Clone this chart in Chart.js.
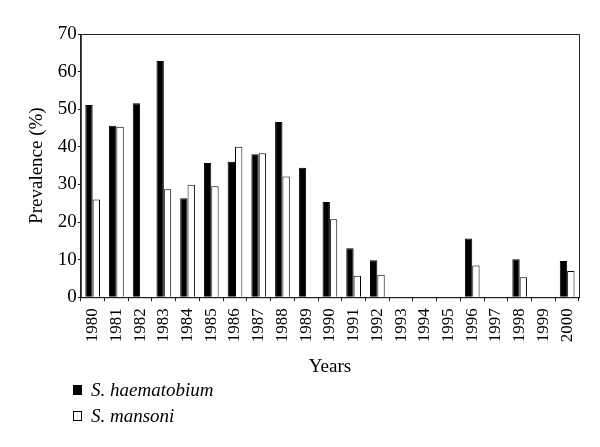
<!DOCTYPE html>
<html>
<head>
<meta charset="utf-8">
<script src="https://cdn.jsdelivr.net/npm/chart.js@4"></script>
<style>
    html, body { margin: 0; padding: 0; background: #fff; }
    #wrap { position: relative; width: 600px; height: 447px; }
    #legend {
        position: absolute; left: 73px; top: 377px;
        font-family: 'Liberation Serif', serif; font-style: italic; font-size: 19px; color: #000;
    }
    .item { display: flex; align-items: center; height: 26px; }
    .swatch { width: 7px; height: 8px; border: 1px solid #000; margin-right: 9px; }
</style>
</head>
<body>
<div id="wrap">
    <canvas id="chart" width="600" height="447"></canvas>
    <div id="legend">
        <div class="item"><span class="swatch" style="background:#000"></span><span>S. haematobium</span></div>
        <div class="item"><span class="swatch" style="background:#fff"></span><span>S. mansoni</span></div>
    </div>
</div>
<script>
const years = ['1980', '1981', '1982', '1983', '1984', '1985', '1986', '1987', '1988', '1989', '1990',
    '1991', '1992', '1993', '1994', '1995', '1996', '1997', '1998', '1999', '2000'];
const haematobium = [51.1, 45.6, 51.6, 62.8, 26.3, 35.7, 36.0, 38.0, 46.6, 34.4, 25.3,
    13.0, 9.8, null, null, null, 15.6, null, 10.1, null, 9.6];
const mansoni = [26.0, 45.3, null, 28.7, 29.9, 29.5, 40.0, 38.3, 32.1, null, 20.7,
    5.7, 6.0, null, null, null, 8.4, null, 5.3, null, 7.0];
const yTicks = [0, 10, 20, 30, 40, 50, 60, 70];

const serif = "'Liberation Serif', serif";

// box round the plot area
const frame = {
    id: 'frame',
    afterDraw(chart) {
        const a = chart.chartArea;
        const ctx = chart.ctx;
        ctx.save();
        ctx.strokeStyle = '#222';
        ctx.lineWidth = 1;
        ctx.strokeRect(a.left + 0.5, a.top + 0.5, a.right - a.left, a.bottom - a.top);
        ctx.restore();
    }
};

new Chart(document.getElementById('chart'), {
    type: 'bar',
    data: {
        labels: years,
        datasets: [{
            label: 'S. haematobium',
            data: haematobium,
            backgroundColor: '#000',
            borderColor: '#000',
            borderWidth: 1
        }, {
            label: 'S. mansoni',
            data: mansoni,
            backgroundColor: '#fff',
            borderColor: '#000',
            borderWidth: 1
        }]
    },
    options: {
        responsive: false,
        animation: false,
        layout: { padding: { top: 34, right: 21, bottom: 69, left: 26 } },
        categoryPercentage: 0.62,
        barPercentage: 1.0,
        plugins: {
            legend: { display: false },
            tooltip: { enabled: false }
        },
        scales: {
            x: {
                grid: { drawOnChartArea: false, offset: true, tickLength: 4, color: '#222' },
                border: { color: '#222' },
                ticks: {
                    color: '#000',
                    font: { family: serif, size: 17 },
                    minRotation: 90, maxRotation: 90,
                    autoSkip: false,
                    padding: 7
                },
                title: {
                    display: true, text: 'Years', color: '#000',
                    font: { family: serif, size: 19 },
                    padding: { top: 6, bottom: 0 }
                }
            },
            y: {
                min: 0, max: 70,
                afterBuildTicks(axis) {
                    axis.ticks = yTicks.map(v => ({ value: v }));
                },
                grid: { drawOnChartArea: false, tickLength: 3, color: '#222' },
                border: { color: '#222' },
                ticks: {
                    color: '#000',
                    font: { family: serif, size: 19 },
                    padding: 1
                },
                title: {
                    display: true, text: 'Prevalence (%)', color: '#000',
                    font: { family: serif, size: 19 },
                    padding: { top: 0, bottom: 8 }
                }
            }
        }
    },
    plugins: [frame]
});
</script>
</body>
</html>
